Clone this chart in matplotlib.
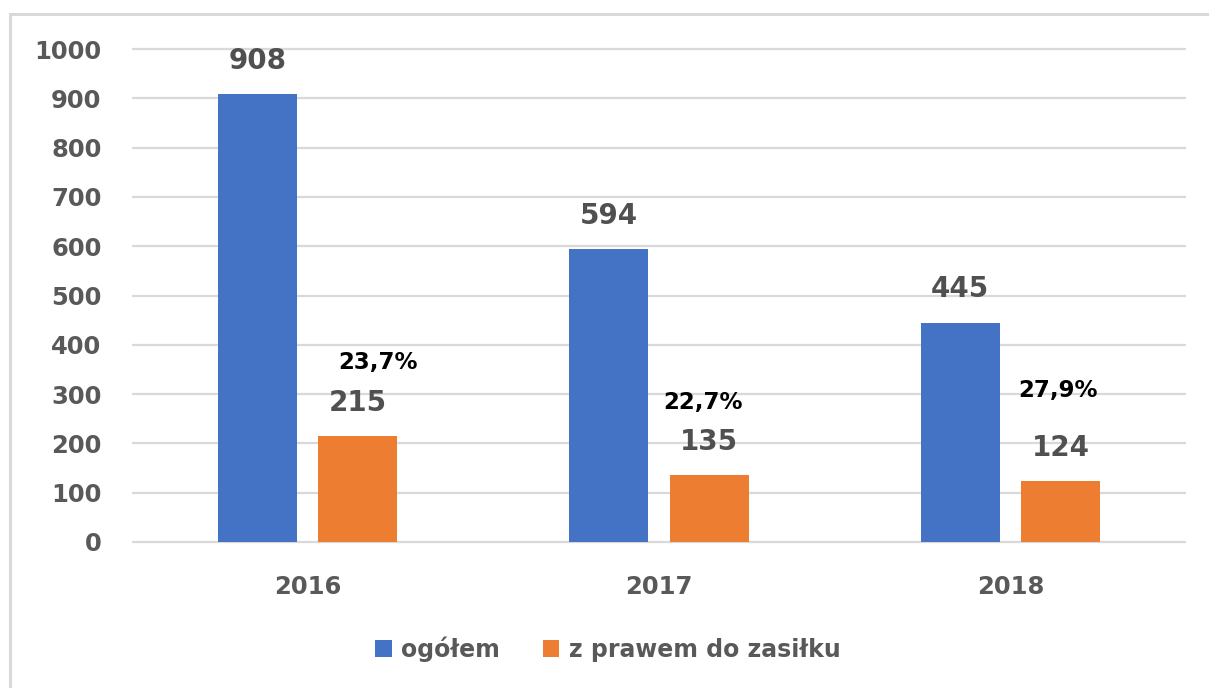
import matplotlib
matplotlib.use("Agg")
import matplotlib.pyplot as plt
from matplotlib.patches import Rectangle, Patch
import numpy as np

years = ["2016", "2017", "2018"]
ogolem = [908, 594, 445]
z_prawem = [215, 135, 124]
pct_labels = ["23,7%", "22,7%", "27,9%"]
yticks = [0, 100, 200, 300, 400, 500, 600, 700, 800, 900, 1000]
series_names = ["ogółem", "z prawem do zasiłku"]

BLUE = "#4472C4"
ORANGE = "#ED7D31"
GRID = "#d9d9d9"
TXT = "#595959"

plt.rcParams['font.family'] = ['DejaVu Sans']

fig = plt.figure(figsize=(12.09, 6.88), dpi=100)
W, H = 1209, 688
# outer border (top and left visible)
fig.patches.append(Rectangle((10 / W, -0.1), 1.2, 1 - 14 / H + 0.1, transform=fig.transFigure,
                             fill=False, edgecolor=GRID, linewidth=2.2))

ax = fig.add_axes([132 / W, 1 - 546.9 / H, (1186 - 132) / W, (546.9 - 44.1) / H])
ax.set_xlim(-0.5, 2.5)
ax.set_ylim(-10, 1010)

x = np.arange(len(years))
bw = 0.225
off = 0.1425
b1 = ax.bar(x - off, ogolem, width=bw, color=BLUE, zorder=3)
b2 = ax.bar(x + off, z_prawem, width=bw, color=ORANGE, zorder=3)

for rect, v in list(zip(b1, ogolem)) + list(zip(b2, z_prawem)):
    ax.annotate(str(v), (rect.get_x() + rect.get_width() / 2, v), xytext=(0, 24),
                textcoords="offset points", ha="center", va="center",
                fontsize=20, fontweight="bold", color="#505050")

pct_pos = [(0.200, 365), (1.125, 282), (2.136, 308)]
for (px, py), lab in zip(pct_pos, pct_labels):
    ax.text(px, py, lab, ha="center", va="center", fontsize=16.5, fontweight="bold", color="black")

ax.set_yticks(yticks)
ax.set_yticklabels([str(t) for t in yticks])
ax.set_xticks(x)
ax.set_xticklabels(years)
ax.yaxis.grid(True, color=GRID, linewidth=1.6, zorder=0)
ax.set_axisbelow(True)
for s in ax.spines.values():
    s.set_visible(False)
ax.tick_params(axis="y", length=0, pad=22, labelsize=17.5, labelcolor=TXT)
ax.tick_params(axis="x", length=0, pad=20, labelsize=17.5, labelcolor=TXT)
for lab in ax.get_xticklabels() + ax.get_yticklabels():
    lab.set_fontweight("bold")

handles = [Patch(facecolor=BLUE, label=series_names[0]), Patch(facecolor=ORANGE, label=series_names[1])]
leg = fig.legend(handles=handles, loc="center", bbox_to_anchor=(608 / W, 1 - 649 / H), ncol=2,
                 frameon=False, fontsize=17, handlelength=0.7, handleheight=0.7,
                 handletextpad=0.4, columnspacing=1.8)
for t in leg.get_texts():
    t.set_color(TXT)
    t.set_fontweight("bold")

fig.savefig("out.png", dpi=100)
